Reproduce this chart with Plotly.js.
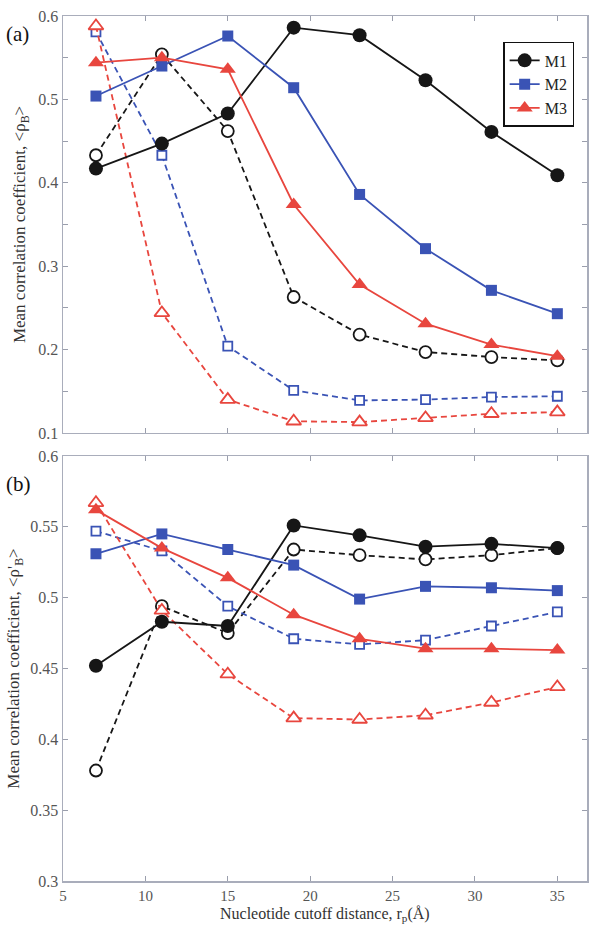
<!DOCTYPE html>
<html>
<head>
<meta charset="utf-8">
<script src="https://cdn.plot.ly/plotly-3.0.1.min.js"></script>
<style>html,body{margin:0;padding:0;background:#fff;}#chart{width:592px;height:926px;}</style>
</head>
<body>
<div id="chart"></div>
<script>
// cutoff distances
const cutoff = [7, 11, 15, 19, 23, 27, 31, 35];

// Panel (a): <rho_B>
const a_M1 = [0.417, 0.447, 0.483, 0.586, 0.577, 0.523, 0.461, 0.409];
const a_M1_open = [0.433, 0.554, 0.462, 0.263, 0.218, 0.197, 0.191, 0.187];
const a_M2 = [0.504, 0.540, 0.576, 0.514, 0.386, 0.321, 0.271, 0.243];
const a_M2_open = [0.581, 0.433, 0.204, 0.151, 0.139, 0.140, 0.143, 0.144];
const a_M3 = [0.544, 0.550, 0.536, 0.374, 0.278, 0.231, 0.206, 0.192];
const a_M3_open = [0.588, 0.244, 0.140, 0.114, 0.113, 0.118, 0.123, 0.125];

// Panel (b): <rho'_B>
const b_M1 = [0.452, 0.483, 0.480, 0.551, 0.544, 0.536, 0.538, 0.535];
const b_M1_open = [0.378, 0.494, 0.475, 0.534, 0.530, 0.527, 0.530, 0.535];
const b_M2 = [0.531, 0.545, 0.534, 0.523, 0.499, 0.508, 0.507, 0.505];
const b_M2_open = [0.547, 0.533, 0.494, 0.471, 0.467, 0.470, 0.480, 0.490];
const b_M3 = [0.562, 0.535, 0.514, 0.488, 0.471, 0.464, 0.464, 0.463];
const b_M3_open = [0.567, 0.491, 0.446, 0.415, 0.414, 0.417, 0.426, 0.437];

const seriesNames = ['M1', 'M2', 'M3'];
const xTicks = [5, 10, 15, 20, 25, 30, 35];
const aTickVals = [0.1, 0.2, 0.3, 0.4, 0.5, 0.6];
const aTickText = ['0.1', '0.2', '0.3', '0.4', '0.5', '0.6'];
const bTickVals = [0.3, 0.35, 0.4, 0.45, 0.5, 0.55, 0.6];
const bTickText = ['0.3', '0.35', '0.4', '0.45', '0.5', '0.55', '0.6'];

const colors = ['#161616', '#3a53b5', '#e8463e'];
const syms = ['circle', 'square', 'triangle-up'];
const solidSize = [14, 11, 14];
const openSize = [12, 9, 13];

function solid(y, i, xa, ya, show) {
  return {x: cutoff, y: y, xaxis: xa, yaxis: ya, type: 'scatter', mode: 'lines+markers',
    name: seriesNames[i], showlegend: show, legendgroup: seriesNames[i],
    line: {color: colors[i], width: 1.8},
    marker: {symbol: syms[i], size: solidSize[i], color: colors[i]}};
}
function open(y, i, xa, ya) {
  return {x: cutoff, y: y, xaxis: xa, yaxis: ya, type: 'scatter', mode: 'lines+markers',
    name: seriesNames[i] + ' (open)', showlegend: false,
    line: {color: colors[i], width: 1.8, dash: '6px,4px'},
    marker: {symbol: syms[i], size: openSize[i], color: '#ffffff', line: {color: colors[i], width: 1.8}}};
}

const traces = [
  open(a_M1_open, 0, 'x', 'y'), open(a_M2_open, 1, 'x', 'y'), open(a_M3_open, 2, 'x', 'y'),
  solid(a_M1, 0, 'x', 'y', true), solid(a_M2, 1, 'x', 'y', true), solid(a_M3, 2, 'x', 'y', true),
  open(b_M1_open, 0, 'x2', 'y2'), open(b_M2_open, 1, 'x2', 'y2'), open(b_M3_open, 2, 'x2', 'y2'),
  solid(b_M1, 0, 'x2', 'y2', false), solid(b_M2, 1, 'x2', 'y2', false), solid(b_M3, 2, 'x2', 'y2', false)
];

const axisCommon = {
  showline: true, linecolor: '#a9adbb', linewidth: 1.5, mirror: 'ticks',
  ticks: 'inside', ticklen: 5, tickcolor: '#9a9eac', tickwidth: 1,
  showgrid: false, zeroline: false,
  tickfont: {family: 'Liberation Serif, serif', size: 16, color: '#555'}
};
const titleFont = {family: 'Liberation Serif, serif', size: 17, color: '#333'};

const layout = {
  width: 592, height: 926,
  margin: {l: 63, r: 5, t: 16, b: 45},
  paper_bgcolor: '#fff', plot_bgcolor: '#fff',
  font: {family: 'Liberation Serif, serif', color: '#333'},
  xaxis: Object.assign({}, axisCommon, {domain: [0, 1], range: [5, 36.8], tickvals: xTicks, showticklabels: false, anchor: 'y'}),
  yaxis: Object.assign({}, axisCommon, {domain: [0.518, 1], range: [0.1, 0.6], tickvals: aTickVals, ticktext: aTickText, anchor: 'x',
    minor: {dtick: 0.05, tick0: 0.1, ticks: 'inside', ticklen: 5, tickcolor: '#9a9eac', showgrid: false},
    title: {text: 'Mean correlation coefficient, &lt;ρ<sub>B</sub>&gt;', font: titleFont, standoff: 8}}),
  xaxis2: Object.assign({}, axisCommon, {domain: [0, 1], range: [5, 36.8], tickvals: xTicks, anchor: 'y2',
    tickfont: {family: 'Liberation Serif, serif', size: 15, color: '#555'}}),
  yaxis2: Object.assign({}, axisCommon, {domain: [0, 0.4913], range: [0.3, 0.6], tickvals: bTickVals, ticktext: bTickText, anchor: 'x2',
    title: {text: "Mean correlation coefficient, &lt;ρ'<sub>B</sub>&gt;", font: titleFont, standoff: 6}}),
  legend: {x: 0.84, y: 0.97, xanchor: 'left', yanchor: 'top', bgcolor: '#fff', bordercolor: '#111', borderwidth: 1.5,
    font: {family: 'Liberation Serif, serif', size: 16, color: '#222'}, itemwidth: 30, tracegroupgap: 0},
  annotations: [
    {text: '(a)', xref: 'paper', yref: 'paper', x: -0.113, y: 0.995, xanchor: 'left', yanchor: 'top', showarrow: false,
      font: {family: 'Liberation Serif, serif', size: 21, color: '#111'}},
    {text: '(b)', xref: 'paper', yref: 'paper', x: -0.113, y: 0.475, xanchor: 'left', yanchor: 'top', showarrow: false,
      font: {family: 'Liberation Serif, serif', size: 21, color: '#111'}},
    {text: 'Nucleotide cutoff distance, r<sub>p</sub>(Å)', xref: 'paper', yref: 'paper', x: 0.5, y: -0.0515,
      xanchor: 'center', yanchor: 'bottom', showarrow: false, font: {family: 'Liberation Serif, serif', size: 16, color: '#333'}}
  ]
};

Plotly.newPlot('chart', traces, layout, {displayModeBar: false, staticPlot: true});
</script>
</body>
</html>
